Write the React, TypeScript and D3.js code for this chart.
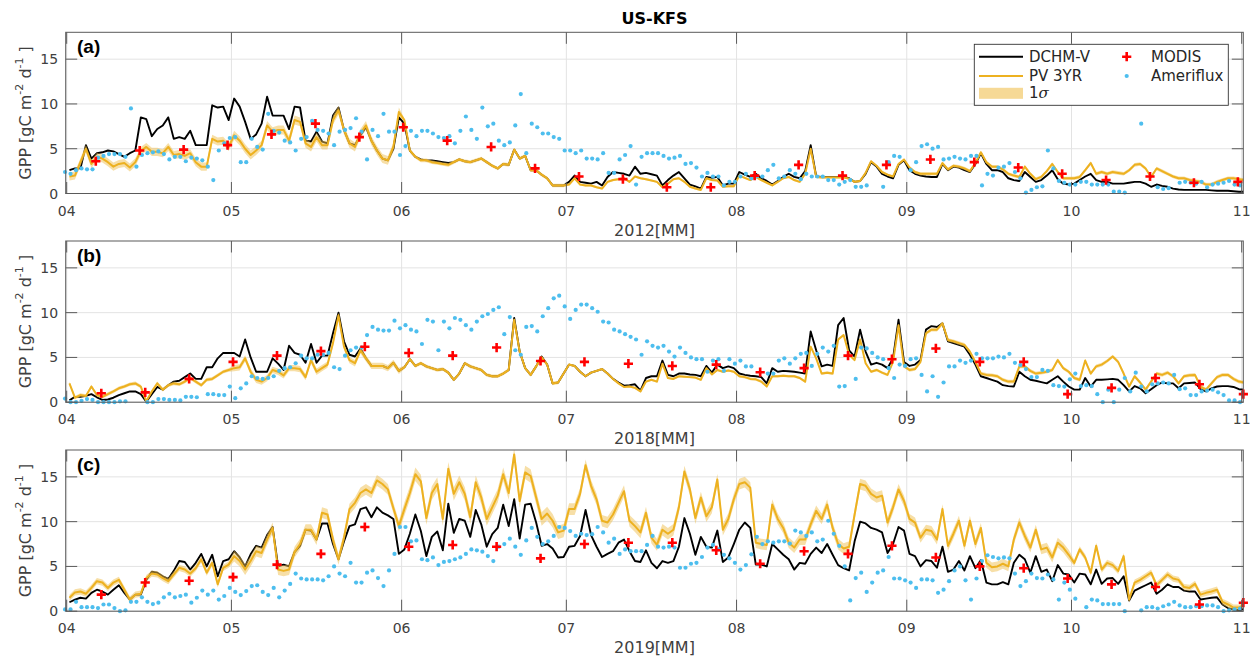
import React from "react";
import * as d3 from "d3";

// ---------------------------------------------------------------------------
// US-KFS daily GPP, 1 Apr .. 1 Nov (215 daily values per series)
// ---------------------------------------------------------------------------

const dchm2012 = [
  2.6, 2.8, 2.8, 5.4, 3.9, 4.5, 4.6, 4.8, 4.7, 4.4,
  4.1, 4.5, 4.8, 8.5, 8.3, 6.4, 7.2, 7.6, 8.5, 6.1,
  6.3, 6.1, 7.0, 5.4, 5.4, 5.4, 9.85, 9.6, 9.7, 8.2,
  10.6, 9.7, 8.0, 6.1, 6.6, 7.8, 10.8, 8.7, 8.7, 8.7,
  7.2, 9.7, 9.6, 5.9, 5.8, 6.9, 5.8, 5.6, 8.7, 9.6,
  7.1, 5.6, 5.4, 6.5, 7.4, 5.9, 4.8, 3.9, 3.7, 5.0,
  8.5, 7.8, 4.8, 4.1, 3.8, 3.7, 3.7, 3.6, 3.5, 3.4,
  3.5, 3.8, 3.6, 3.5, 3.7, 3.9, 3.5, 3.1, 2.8, 3.3,
  3.2, 4.9, 3.9, 4.2, 2.6, 2.6, 2.1, 1.7, 0.9, 0.9,
  0.9, 1.3, 2.0, 1.3, 1.2, 1.1, 1.3, 0.9, 1.85, 2.4,
  2.3, 2.2, 2.0, 3.0, 2.2, 2.3, 2.15, 2.0, 0.9, 1.5,
  2.0, 2.4, 1.7, 1.0, 0.8, 0.55, 1.85, 1.75, 1.85, 0.9,
  1.1, 1.1, 2.4, 2.1, 1.85, 2.2, 1.7, 1.4, 1.0, 1.4,
  1.85, 2.2, 1.85, 1.7, 2.5, 5.4, 1.9, 1.85, 1.85, 1.85,
  1.85, 1.85, 1.7, 1.3, 1.4, 2.2, 3.5, 3.0, 2.2, 1.9,
  1.7, 3.2, 3.7, 2.6, 2.2, 2.0, 1.9, 1.85, 1.85, 3.3,
  2.6, 3.0, 2.9, 2.6, 2.4, 3.3, 4.5, 3.3, 2.6, 2.6,
  2.4, 1.7, 1.5, 1.4, 2.4, 1.85, 1.3, 1.5, 2.0, 2.6,
  1.6, 1.1, 1.0, 1.1, 1.5, 1.9, 2.2, 1.5, 1.3, 1.3,
  1.1, 1.1, 1.1, 1.2, 1.3, 1.3, 1.1, 0.75, 1.0, 0.85,
  0.75, 0.55, 0.45, 0.4, 0.4, 0.4, 0.4, 0.4, 0.35, 0.3,
  0.3, 0.3, 0.25, 0.2, 0.2,
];

const pv2012 = [
  1.9, 2.0, 3.5, 5.0, 3.3, 4.1, 3.9, 3.5, 3.0, 3.3,
  3.4, 2.9, 3.5, 4.75, 5.2, 4.65, 4.65, 4.5, 5.2, 4.3,
  4.4, 4.2, 4.5, 3.5, 3.0, 3.0, 6.1, 5.8, 5.9, 5.2,
  6.5, 5.9, 5.0, 4.3, 4.8, 5.4, 7.6, 6.9, 7.1, 7.1,
  5.9, 8.2, 8.0, 5.6, 5.2, 6.3, 5.4, 5.4, 8.2, 9.3,
  7.1, 5.6, 5.2, 6.7, 7.6, 5.9, 4.8, 3.9, 3.7, 5.2,
  9.1, 8.2, 4.8, 4.1, 3.7, 3.7, 3.5, 3.4, 3.3, 3.2,
  3.5, 3.8, 3.6, 3.5, 3.7, 3.9, 3.5, 3.1, 2.8, 3.3,
  3.2, 4.9, 3.9, 4.2, 2.6, 2.6, 2.1, 1.7, 0.9, 0.9,
  0.9, 1.0, 1.7, 1.0, 0.9, 0.9, 0.7, 0.55, 1.3, 1.5,
  1.6, 1.7, 1.3, 1.9, 1.7, 1.6, 1.45, 1.3, 0.7, 1.1,
  1.6, 1.7, 1.3, 0.75, 0.55, 0.4, 1.7, 1.5, 1.45, 0.75,
  0.8, 0.8, 2.0, 1.75, 1.5, 1.85, 1.5, 1.2, 0.9, 1.3,
  1.7, 1.85, 1.5, 1.3, 2.2, 5.0, 1.85, 1.8, 1.8, 1.8,
  1.8, 1.8, 1.65, 1.3, 1.4, 2.3, 3.6, 3.1, 2.4, 2.1,
  1.9, 3.3, 3.8, 2.9, 2.4, 2.2, 2.2, 2.2, 2.2, 3.4,
  2.7, 3.1, 3.0, 2.8, 2.5, 3.4, 4.6, 3.5, 3.0, 3.0,
  2.7, 2.2, 2.0, 1.85, 3.0, 2.2, 1.6, 1.85, 2.5, 3.3,
  2.4, 1.7, 1.7, 1.7, 1.85, 2.6, 3.4, 2.2, 2.4, 2.2,
  2.4, 2.3, 2.2, 2.6, 3.2, 3.3, 2.8, 1.85, 2.8, 2.5,
  2.2, 1.9, 1.7, 1.7, 1.5, 1.4, 1.3, 1.0, 1.0, 1.3,
  1.5, 1.7, 1.7, 1.6, 1.5,
];

const flux2012 = [
  2.4, 2.2, 2.6, 2.8, 2.7, 2.7, 4.0, 4.2, 4.4, 4.4,
  4.4, 4.1, 9.5, 3.0, 4.3, 4.5, 4.6, 4.7, 4.4, 3.8,
  4.1, 4.1, 3.6, 4.0, 3.9, 3.7, 3.0, 1.5, 4.8, 5.6,
  6.2, 6.3, 3.5, 3.5, 6.1, 5.2, 4.9, 8.9, 7.0, 6.8,
  5.9, 5.7, 4.8, 6.1, 6.3, 8.1, 7.1, 7.0, 6.7, 5.4,
  6.9, 7.1, 7.3, 8.4, 6.9, 3.8, 7.1, 6.4, 8.9, 6.9,
  6.9, 4.3, 5.3, 7.0, 6.4, 7.0, 7.0, 6.7, 6.3, 6.2,
  6.4, 5.6, 7.0, 8.6, 7.1, 6.1, 9.6, 7.5, 7.8, 5.9,
  5.4, 5.7, 7.6, 11.1, 4.5, 7.8, 7.4, 6.7, 6.7, 6.3,
  6.1, 4.8, 4.8, 4.5, 4.8, 3.9, 3.9, 3.8, 4.5, 2.3,
  2.3, 3.8, 4.3, 5.3, 1.0, 4.1, 4.5, 4.5, 4.5, 4.2,
  3.9, 4.0, 4.2, 3.3, 3.4, 2.9, 1.9, 2.3, 1.9, 1.9,
  0.9, 1.3, 1.3, 1.9, 2.2, 1.7, 1.9, 1.9, 2.6, 3.2,
  1.7, 1.9, 2.6, 2.2, 1.6, 2.2, 1.9, 1.9, 1.9, 1.5,
  1.5, 1.0, 1.3, 1.5, 0.75, 0.75, 0.9, null, null, 0.75,
  3.5, 4.2, 4.1, null, 2.6, 3.5, 5.3, 5.5, 5.0, 5.2,
  3.8, 3.9, 4.1, 3.9, 3.8, 4.2, 4.2, 0.9, 2.2, 2.0,
  2.9, 3.0, 3.4, 2.4, 1.7, 0.1, 0.4, 0.7, 0.8, 4.8,
  2.8, 1.4, 1.2, 1.0, 1.0, 1.3, 1.3, 1.0, 1.0, 1.0,
  1.0, 0.2, 0.2, 0.1, null, null, 7.8, null, null, 0.7,
  0.5, 0.6, null, 1.2, 1.3, 1.2, 1.1, 1.3, 0.7, 1.0,
  1.1, 1.2, 1.4, 1.0, 0.9,
];

const dchm2018 = [
  0.2, 0.6, 0.6, 0.7, 0.9, 0.55, 0.25, 0.3, 0.5, 0.8,
  1.0, 1.2, 1.2, 0.9, 0.05, 0.9, 1.7, 1.4, 1.9, 2.3,
  2.4, 2.8, 3.2, 2.6, 2.6, 3.9, 3.9, 4.9, 5.5, 5.5,
  5.5, 5.1, 7.0, 5.0, 3.4, 3.4, 3.4, 4.9, 4.3, 3.6,
  6.3, 5.5, 5.3, 4.4, 6.5, 4.4, 5.2, 5.2, 7.7, 10.0,
  6.8, 5.3, 5.1, 6.0, 4.9, 4.05, 4.05, 4.05, 3.8, 4.4,
  3.5, 3.9, 4.8, 4.05, 4.35, 4.0, 3.8, 3.6, 3.7, 3.3,
  2.5, 3.2, 4.35, 4.0, 3.8, 3.6, 3.05, 2.9, 2.9, 3.2,
  3.6, 9.4, 5.65, 3.8, 3.05, 4.0, 5.1, 4.2, 2.1, 2.2,
  3.2, 4.2, 4.05, 3.4, 2.9, 3.3, 3.5, 3.7, 3.2, 2.6,
  2.2, 1.85, 1.9, 2.0, 1.3, 2.7, 2.9, 2.9, 4.65, 3.05,
  2.9, 3.2, 3.2, 3.1, 3.05, 2.9, 4.05, 3.3, 4.2, 3.8,
  4.0, 3.8, 3.2, 3.05, 2.95, 2.9, 2.8, 2.1, 3.8, 3.4,
  3.5, 3.45, 3.4, 3.3, 3.2, 7.9, 5.8, 4.0, 4.2, 4.05,
  8.6, 9.4, 5.8, 5.1, 8.1, 5.65, 4.2, 4.4, 4.2, 3.8,
  4.9, 9.2, 4.5, 4.05, 4.2, 4.7, 8.1, 8.5, 8.4, 8.8,
  6.8, 6.6, 6.4, 6.2, 5.3, 4.2, 2.9, 2.7, 2.5, 2.3,
  1.9, 1.8, 1.75, 3.4, 2.9, 2.5, 2.4, 2.25, 2.1, 2.5,
  2.9, 2.3, 1.75, 1.4, 1.4, 2.7, 1.75, 2.5, 2.5, 2.55,
  2.6, 2.5, 1.9, 1.2, 1.8, 1.55, 1.0, 1.45, 1.9, 2.2,
  2.1, 2.1, 1.55, 2.1, 2.15, 2.2, 1.45, 1.2, 1.55, 1.75,
  1.8, 1.8, 1.7, 1.45, 1.4,
];

const pv2018 = [
  2.1, 0.5, 0.8, 0.7, 1.75, 0.8, 0.6, 0.9, 1.2, 1.55,
  1.75, 2.0, 2.1, 1.75, 0.1, 1.2, 2.1, 1.4, 1.9, 2.1,
  2.0, 2.3, 2.7, 2.3, 1.9, 2.5, 2.6, 3.0, 3.4, 3.6,
  3.8, 3.9, 4.9, 3.4, 2.5, 2.3, 2.7, 3.6, 3.4, 3.0,
  3.8, 3.8, 3.7, 2.8, 4.7, 3.4, 3.8, 4.2, 6.6, 9.7,
  6.2, 4.7, 4.35, 5.8, 4.9, 4.05, 4.05, 4.05, 3.8, 4.4,
  3.5, 3.9, 4.8, 4.05, 4.35, 4.0, 3.8, 3.6, 3.7, 3.3,
  2.5, 3.2, 4.35, 4.0, 3.8, 3.6, 3.05, 2.9, 2.9, 3.2,
  3.6, 9.2, 5.65, 3.8, 3.05, 4.0, 5.0, 4.2, 2.1, 2.2,
  3.2, 4.2, 4.05, 3.4, 2.9, 3.3, 3.5, 3.7, 3.2, 2.6,
  2.1, 1.7, 1.75, 1.6, 1.2, 2.3, 2.5, 2.3, 4.3, 2.7,
  2.6, 2.9, 2.85, 2.8, 2.75, 2.5, 3.8, 3.1, 3.6, 3.4,
  3.55, 3.4, 2.9, 2.8, 2.6, 2.55, 2.3, 1.75, 2.9, 2.9,
  2.95, 2.9, 2.9, 2.7, 2.3, 6.2, 4.9, 3.2, 3.3, 3.2,
  7.0, 7.5, 5.3, 4.7, 7.0, 4.35, 3.4, 3.6, 3.3, 3.05,
  4.5, 8.6, 4.0, 3.6, 3.7, 4.5, 7.7, 8.1, 8.1, 8.8,
  6.95, 6.8, 6.6, 6.4, 5.65, 4.5, 3.2, 3.05, 3.0, 2.9,
  2.5, 2.3, 2.3, 4.0, 4.0, 3.5, 3.2, 3.3, 3.4, 3.6,
  4.7, 3.8, 3.4, 2.7, 2.5, 4.65, 3.2, 4.0, 4.2, 4.6,
  5.1, 4.5, 3.2, 1.75, 2.9, 2.2, 1.4, 2.3, 3.2, 3.05,
  3.3, 2.9, 2.1, 2.9, 3.0, 3.05, 1.75, 1.4, 2.1, 2.8,
  3.05, 3.05, 2.6, 2.3, 2.2,
];

const flux2018 = [
  0.4, 0.0, 0.0, 0.15, 0.35, 0.25, 0.0, 0.0, 0.0, 0.0,
  0.1, 0.1, null, null, null, 0.0, 0.0, 0.35, 0.35, 0.25,
  0.25, 0.2, 0.6, 0.6, 0.55, null, 0.9, 0.9, 0.8, 0.8,
  1.75, 0.45, 1.55, 2.1, 2.9, 2.7, 2.6, 2.7, 2.9, 3.5,
  3.8, 3.9, 4.35, 5.2, 4.9, 4.9, 5.3, 5.3, 5.5, 3.9,
  3.7, 5.2, 5.8, 6.1, 6.1, 7.5, 8.4, 8.1, 8.0, 8.0,
  9.1, 8.25, 8.6, 8.1, 7.9, 6.5, 9.2, 9.0, 5.8, 9.0,
  8.25, 9.4, 9.2, 8.6, 8.1, 9.0, 9.6, 9.85, 10.3, 10.6,
  7.6, 9.5, 5.8, 5.3, 8.4, 8.5, 7.9, 9.6, 10.5, 11.6,
  11.9, 10.7, 9.3, 10.3, 10.9, 10.9, 10.5, 10.1, 9.0, 8.9,
  8.1, 7.9, 7.6, 7.3, 7.0, 5.3, 6.8, 6.3, 6.1, 6.3,
  5.65, 5.1, 6.1, 5.5, 5.0, 4.8, 4.8, 3.4, 4.65, 4.8,
  3.5, 4.8, 4.3, 4.65, 4.0, 4.0, null, null, 3.2, 3.2,
  4.65, 4.9, 4.3, 4.9, 5.4, 5.5, 4.05, 5.4, 6.1, 5.65,
  6.3, 1.75, 1.8, null, 2.6, 6.1, 6.0, 5.5, 5.0, 4.8,
  3.8, 2.7, 4.2, 4.05, 4.8, 4.9, 3.05, 1.2, 2.9, 0.6,
  2.2, 4.0, 4.0, 4.65, 4.4, 4.65, 5.4, 4.9, 4.9, 4.9,
  5.1, 5.0, 5.4, 4.4, 4.15, 3.7, 2.8, 2.8, 3.6, 3.5,
  1.9, 1.8, 1.75, 2.55, 3.2, 1.8, 1.9, 1.8, 0.9, 0.0,
  1.4, 0.0, 1.4, 2.7, 1.2, 3.3, 1.75, 1.2, 2.0, 2.1,
  2.2, 2.1, 3.05, 1.45, 1.55, 0.8, 0.8, 1.2, 1.3, 1.4,
  1.1, 0.8, 0.2, 0.2, 0.0,
];

const dchm2019 = [
  1.0, 1.3, 1.5, 1.4, 2.05, 2.4, 2.2, 1.85, 2.4, 2.9,
  2.05, 1.3, 1.85, 1.85, 3.5, 4.4, 4.3, 3.9, 3.6, 4.5,
  5.6, 5.5, 4.65, 5.4, 6.4, 5.0, 6.3, 3.9, 5.6, 5.8,
  6.7, 6.0, 5.0, 6.35, 7.3, 7.1, 8.5, 9.4, 5.0, 5.2,
  5.0, 6.6, 7.3, 9.1, 9.0, 8.0, 9.8, 9.8, 7.5, 5.8,
  7.8, 9.5, 9.7, 11.4, 11.6, 10.5, 11.6, 11.0, 10.7, 10.3,
  6.4, 6.9, 8.65, 10.8, 8.95, 6.15, 8.3, 8.9, 6.8, 12.0,
  8.75, 10.3, 10.1, 8.3, 11.3, 9.7, 7.2, 8.6, 9.3, 11.9,
  9.5, 12.5, 8.1, 11.9, 12.0, 9.9, 7.3, 7.5, 7.0, 6.0,
  6.05, 7.2, 7.3, 8.4, 11.3, 8.5, 7.2, 6.05, 6.4, 6.7,
  7.65, 8.0, 6.7, 5.6, 5.5, 6.8, 5.4, 4.8, 5.6, 5.4,
  5.6, 7.2, 10.4, 8.65, 6.3, 8.3, 7.2, 7.1, 9.0, 5.5,
  6.0, 7.5, 9.1, 9.9, 9.3, 5.2, 5.2, 5.0, 7.5, 6.9,
  6.3, 5.8, 4.65, 5.4, 5.3, 6.4, 7.1, 6.5, 7.5, 6.3,
  5.15, 4.8, 4.55, 7.8, 10.0, 9.8, 9.3, 9.1, 8.8, 6.5,
  7.5, 9.4, 9.0, 6.4, 6.15, 5.0, 5.7, 5.6, 4.85, 7.2,
  4.4, 4.65, 5.6, 4.55, 6.15, 4.8, 5.7, 3.2, 3.0, 3.0,
  3.25, 3.0, 5.4, 6.3, 5.8, 4.3, 6.15, 4.4, 4.65, 3.35,
  5.15, 4.2, 4.1, 3.2, 4.2, 4.1, 3.0, 4.65, 3.05, 3.65,
  3.7, 3.05, 3.9, 1.2, 2.3, 2.6, 2.9, 3.2, 1.95, 2.4,
  3.0, 2.7, 2.7, 2.3, 2.2, 2.2, 1.3, 1.4, 1.5, 1.55,
  0.75, 0.35, 0.2, 0.1, 0.3,
];

const pv2019 = [
  1.5, 2.1, 2.2, 1.95, 2.6, 3.35, 3.2, 2.6, 3.2, 3.5,
  2.4, 1.3, 1.85, 1.95, 3.7, 4.2, 4.1, 3.7, 3.35, 4.1,
  4.85, 4.65, 4.2, 4.8, 5.8, 4.3, 5.4, 3.0, 4.85, 5.2,
  6.15, 5.6, 4.65, 5.6, 6.7, 6.5, 8.0, 9.3, 4.65, 4.5,
  4.65, 6.6, 7.5, 9.1, 9.1, 8.0, 11.0, 10.8, 8.0, 5.8,
  8.2, 11.4, 12.1, 13.2, 13.6, 13.2, 14.6, 14.2, 13.6, 11.5,
  9.5, 11.4, 13.2, 15.3, 14.5, 10.4, 13.2, 14.2, 10.3, 15.9,
  13.1, 14.4, 13.1, 10.5, 14.4, 12.7, 10.3, 11.6, 12.9, 15.3,
  13.2, 17.5, 12.3, 15.5, 15.1, 12.7, 10.3, 10.9, 10.1, 8.8,
  9.0, 11.4, 11.4, 13.1, 16.3, 14.0, 12.5, 10.1, 9.9, 10.8,
  12.1, 13.4, 10.1, 9.5, 8.8, 11.0, 8.2, 7.4, 9.1, 8.65,
  9.1, 11.6, 15.6, 13.6, 10.4, 12.7, 10.6, 11.6, 14.7, 9.1,
  10.3, 12.5, 14.2, 14.4, 13.8, 7.65, 7.5, 7.4, 11.9, 10.3,
  9.3, 7.65, 7.1, 8.0, 8.0, 9.7, 11.2, 10.3, 11.9, 9.3,
  7.5, 7.0, 7.2, 10.8, 14.2, 14.0, 13.1, 12.7, 12.9, 9.9,
  11.6, 13.6, 12.3, 10.3, 9.9, 8.2, 9.1, 8.95, 8.0, 11.4,
  7.3, 8.65, 10.1, 7.3, 10.1, 7.5, 9.3, 5.4, 4.9, 5.0,
  5.3, 5.0, 8.0, 9.9, 8.4, 7.1, 9.1, 6.9, 7.1, 6.0,
  7.65, 7.1, 6.3, 5.4, 6.9, 6.0, 4.3, 7.3, 4.65, 5.4,
  5.15, 4.5, 6.15, 1.3, 3.2, 3.5, 3.9, 4.3, 2.9, 3.5,
  4.1, 3.65, 3.5, 2.7, 2.6, 3.05, 1.85, 2.05, 2.2, 2.4,
  1.05, 0.75, 0.4, 0.4, 0.75,
];

const flux2019 = [
  0.2, 0.2, 1.05, 0.45, 0.45, 0.45, 0.35, 0.75, 0.75, 0.35,
  0.0, 0.1, 1.05, 1.05, 1.55, 1.05, 0.8, 0.95, 1.55, 1.95,
  1.55, 1.7, 1.85, 0.95, 1.5, 2.3, 1.85, 2.3, 1.3, 1.7,
  2.6, 2.15, 1.8, 2.25, 2.8, 2.9, 2.15, 1.8, 2.6, 1.55,
  2.3, 3.05, 4.2, 3.65, 3.55, 3.55, 3.55, 3.45, 3.9, 5.0,
  4.2, 3.9, 5.4, 3.2, 3.2, 4.3, 4.55, 3.7, 2.8, 4.55,
  6.4, 9.4, 9.4, 7.8, 7.9, 5.8, 5.7, 6.0, 5.15, 5.5,
  5.6, 5.8, 6.0, 6.4, 6.9, 6.8, 6.65, 6.15, 5.6, 7.2,
  7.5, 8.1, 7.2, 6.3, 7.9, 9.3, 8.3, 7.5, 7.8, 8.4,
  9.4, 9.3, 8.95, 8.4, 8.65, 8.5, 8.6, 9.4, 8.8, 7.65,
  8.1, 6.4, 6.9, 6.7, 6.7, 6.7, 7.4, 8.4, 7.2, 7.1,
  7.2, 7.1, 4.85, 4.85, 5.3, 5.4, 6.05, 7.1, 7.4, 6.9,
  6.3, 5.9, 5.4, 4.65, 5.15, 6.35, 8.3, 7.5, 7.8, 7.65,
  7.8, 7.8, 7.55, 9.0, 8.8, 8.4, 8.8, 7.8, 8.0, 10.1,
  8.65, 7.3, 5.0, 1.2, 3.7, 4.3, 2.15, 3.2, 4.3, 4.55,
  6.05, 3.65, 3.65, 3.45, 3.2, 2.6, 3.55, 3.55, 3.45, 2.05,
  2.4, 3.35, 4.55, 5.0, 3.45, 1.3, 3.65, 5.6, 6.25, 6.05,
  5.9, 6.0, 5.9, 4.2, 2.8, 3.35, 4.2, 3.7, 3.65, 4.1,
  3.55, 1.3, 3.2, 2.4, 1.4, null, 0.45, 1.3, 1.2, 0.8,
  0.8, 0.8, 0.8, 0.0, null, null, 0.1, 0.45, 0.45, 0.3,
  0.55, 0.75, 1.05, 0.65, 0.45, 0.45, 0.55, 0.55, 0.65, 0.65,
  0.45, 0.0, 0.1, 0.2, 0.3,
];

// PV 3YR one-sigma spread, by month (Apr .. Nov)
const sigma2012 = [0.45, 0.5, 0.2, 0.12, 0.12, 0.18, 0.2, 0.2];
const sigma2018 = [0.2, 0.35, 0.2, 0.12, 0.15, 0.2, 0.2, 0.2];
const sigma2019 = [0.35, 0.6, 0.75, 0.65, 0.6, 0.55, 0.35, 0.3];

// MODIS 8-day composites
const modis2012 = [3.6, 4.8, 4.9, 5.4, 6.6, 7.8, 6.3, 7.4, 5.9, 5.2, 2.8, 1.9, 1.6, 0.7, 0.7, 2.0, 3.2, 2.0, 3.2, 3.8, 3.5, 2.9, 2.2, 1.5, 1.9, 1.2, 1.3];
const modis2018 = [1.0, 1.1, 2.6, 4.5, 5.2, 5.7, 6.2, 5.5, 5.2, 6.1, 4.6, 4.5, 4.3, 4.05, 4.2, 3.35, 3.8, 5.2, 4.8, 6.0, 4.5, 4.5, 0.9, 1.6, 2.7, 2.0, 0.9];
const modis2019 = [1.85, 3.2, 3.4, 3.8, 5.2, 6.4, 9.4, 7.2, 7.4, 7.2, 5.9, 7.5, 7.65, 7.65, 6.8, 5.3, 6.7, 6.4, 7.3, 6.0, 5.0, 4.8, 3.65, 3.0, 2.7, 0.75, 0.95];
// composite centre, days after 1 Apr of the first composite
const modisFirstDay = [5.3, 6.3, 6.3];

const years = [2012, 2018, 2019];
const panelTags = ["(a)", "(b)", "(c)"];
const monthTickLabels = ["04", "05", "06", "07", "08", "09", "10", "11"];
const yTicks = [0, 5, 10, 15];
const legendLabels = ["DCHM-V", "PV 3YR", "1", "MODIS", "Ameriflux"];

// ---------------------------------------------------------------------------
const W = 1252;
const H = 661;
const X0 = 66.7; // 1 Apr
const X1 = 1241.7; // 1 Nov
const FRAME_L = 65.7;
const FRAME_R = 1243.3;
const PANEL_TOP = [32.3, 241, 450];
const PANEL_H = 161.2;
const Y_MAX = 18;
const TICK = 11.5;
const DAY = 86400000;

const C_DCHM = "#000000";
const C_PV = "#EDB120";
const C_BAND = "#F0C050";
const C_MODIS = "#FF0000";
const C_FLUX = "#4DBEEE";
const C_AXIS = "#5a5a5a";
const C_GRID = "#e3e3e3";
const C_TEXT = "#404040";
const FONT = "'DejaVu Sans', sans-serif";

const series = [
  { dchm: dchm2012, pv: pv2012, sigma: sigma2012, modis: modis2012, flux: flux2012 },
  { dchm: dchm2018, pv: pv2018, sigma: sigma2018, modis: modis2018, flux: flux2018 },
  { dchm: dchm2019, pv: pv2019, sigma: sigma2019, modis: modis2019, flux: flux2019 },
];

function plusPath(x: number, y: number, r: number) {
  return `M${x - r},${y}H${x + r}M${x},${y - r}V${y + r}`;
}

function Panel({ k }: { k: number }) {
  const year = years[k];
  const s = series[k];
  const top = PANEL_TOP[k];
  const bottom = top + PANEL_H;
  const start = Date.UTC(year, 3, 1);
  const x = d3.scaleUtc().domain([new Date(start), new Date(Date.UTC(year, 10, 1))]).range([X0, X1]);
  const y = d3.scaleLinear().domain([0, Y_MAX]).range([bottom, top]);
  const at = (d: number) => new Date(start + d * DAY);

  const monthDates = monthTickLabels.map((_, m) => new Date(Date.UTC(year, 3 + m, 1)));

  type P = { t: Date; v: number; sd: number };
  const pvPts: P[] = s.pv.map((v, i) => {
    const t = at(i + 0.5);
    const m = Math.min(7, Math.max(0, t.getUTCMonth() - 3));
    return { t, v, sd: s.sigma[m] };
  });
  const dchmPts = s.dchm.map((v, i) => ({ t: at(i + 0.5), v }));

  const line = d3
    .line<{ t: Date; v: number }>()
    .x((d) => x(d.t))
    .y((d) => y(d.v));
  const band = d3
    .area<P>()
    .x((d) => x(d.t))
    .y0((d) => y(Math.max(0, d.v - d.sd)))
    .y1((d) => y(d.v + d.sd));

  const fluxPts = s.flux
    .map((v, i) => ({ t: at(i - 0.3), v }))
    .filter((d) => d.v !== null && d.v !== undefined) as { t: Date; v: number }[];
  const modisPts = s.modis.map((v, k2) => ({ t: at(modisFirstDay[k] + 8 * k2), v }));

  const midY = (top + bottom) / 2;
  const clipId = `clip${k}`;

  return (
    <g>
      <defs>
        <clipPath id={clipId}>
          <rect x={FRAME_L} y={top} width={FRAME_R - FRAME_L} height={PANEL_H} />
        </clipPath>
      </defs>
      <rect x={FRAME_L} y={top} width={FRAME_R - FRAME_L} height={PANEL_H} fill="#fff" />
      {/* grid */}
      {monthDates.map((d, i) => (
        <line key={"gx" + i} x1={x(d)} x2={x(d)} y1={top} y2={bottom} stroke={C_GRID} strokeWidth={1} />
      ))}
      {yTicks.map((v) => (
        <line key={"gy" + v} x1={FRAME_L} x2={FRAME_R} y1={y(v)} y2={y(v)} stroke={C_GRID} strokeWidth={1} />
      ))}

      <g clipPath={`url(#${clipId})`}>
        <path d={line(dchmPts) || ""} fill="none" stroke={C_DCHM} strokeWidth={1.9} strokeLinejoin="round" />
        <path d={band(pvPts) || ""} fill={C_BAND} fillOpacity={0.5} stroke="none" />
        <path d={line(pvPts) || ""} fill="none" stroke={C_PV} strokeWidth={2} strokeLinejoin="round" />
      </g>
      {fluxPts.map((d, i) => (
        <circle key={"f" + i} cx={x(d.t)} cy={y(d.v)} r={2.1} fill={C_FLUX} />
      ))}
      {modisPts.map((d, i) => (
        <path key={"m" + i} d={plusPath(x(d.t), y(d.v), 4.6)} stroke={C_MODIS} strokeWidth={2.6} fill="none" />
      ))}

      {/* frame and ticks */}
      <rect x={FRAME_L} y={top} width={FRAME_R - FRAME_L} height={PANEL_H} fill="none" stroke={C_AXIS} strokeWidth={1} />
      {monthDates.map((d, i) => (
        <g key={"tx" + i}>
          <line x1={x(d)} x2={x(d)} y1={bottom} y2={bottom - TICK} stroke={C_AXIS} strokeWidth={1} />
          <line x1={x(d)} x2={x(d)} y1={top} y2={top + TICK} stroke={C_AXIS} strokeWidth={1} />
          <text x={x(d)} y={bottom + 17} textAnchor="middle" dominantBaseline="central" fontSize={14} fill={C_TEXT} fontFamily={FONT}>
            {monthTickLabels[i]}
          </text>
        </g>
      ))}
      {yTicks.map((v) => (
        <g key={"ty" + v}>
          <line x1={FRAME_L} x2={FRAME_L + TICK} y1={y(v)} y2={y(v)} stroke={C_AXIS} strokeWidth={1} />
          <line x1={FRAME_R} x2={FRAME_R - TICK} y1={y(v)} y2={y(v)} stroke={C_AXIS} strokeWidth={1} />
          <text x={FRAME_L - 7.5} y={y(v)} textAnchor="end" dominantBaseline="central" fontSize={14} fill={C_TEXT} fontFamily={FONT}>
            {v}
          </text>
        </g>
      ))}

      <text x={(FRAME_L + FRAME_R) / 2} y={bottom + 36.5} textAnchor="middle" dominantBaseline="central" fontSize={16} fill={C_TEXT} fontFamily={FONT}>
        {`${year}[MM]`}
      </text>

      <text
        transform={`translate(25,${midY}) rotate(-90)`}
        textAnchor="middle"
        dominantBaseline="central"
        fontSize={16}
        fill={C_TEXT}
        fontFamily={FONT}
      >
        <tspan>GPP [gC m</tspan>
        <tspan fontSize={11} dy={-6}>-2</tspan>
        <tspan dy={6}> d</tspan>
        <tspan fontSize={11} dy={-6}>-1</tspan>
        <tspan dy={6}> ]</tspan>
      </text>

      <text x={77} y={top + 21} fontSize={19} fontWeight="bold" fill="#000" fontFamily="'Liberation Sans', Arial, sans-serif">
        {panelTags[k]}
      </text>
    </g>
  );
}

function Legend() {
  const bx = 974.3;
  const by = 44.3;
  const bw = 254;
  const bh = 61;
  const rows = [56.7, 76, 93.3];
  const lx0 = 979;
  const lx1 = 1023;
  const tx = 1029;
  const mx = 1126.7;
  const tx2 = 1151;
  const fs = 15;
  return (
    <g fontFamily={FONT} fontSize={fs} fill="#262626">
      <rect x={bx} y={by} width={bw} height={bh} fill="#fff" stroke="#333" strokeWidth={0.9} />
      <line x1={lx0} x2={lx1} y1={rows[0]} y2={rows[0]} stroke={C_DCHM} strokeWidth={2} />
      <text x={tx} y={rows[0]} dominantBaseline="central">{legendLabels[0]}</text>
      <line x1={lx0} x2={lx1} y1={rows[1]} y2={rows[1]} stroke={C_PV} strokeWidth={2} />
      <text x={tx} y={rows[1]} dominantBaseline="central">{legendLabels[1]}</text>
      <rect x={lx0} y={rows[2] - 5.5} width={lx1 - lx0} height={11} fill={C_BAND} fillOpacity={0.6} />
      <text x={tx} y={rows[2]} dominantBaseline="central">
        {legendLabels[2]}
        <tspan fontStyle="italic" fontFamily="'DejaVu Serif', serif">σ</tspan>
      </text>
      <path d={plusPath(mx, rows[0], 4.6)} stroke={C_MODIS} strokeWidth={2.6} fill="none" />
      <text x={tx2} y={rows[0]} dominantBaseline="central">{legendLabels[3]}</text>
      <circle cx={mx} cy={rows[1]} r={2.1} fill={C_FLUX} />
      <text x={tx2} y={rows[1]} dominantBaseline="central">{legendLabels[4]}</text>
    </g>
  );
}

export default function App() {
  return (
    <svg
      width={W}
      height={H}
      viewBox={`0 0 ${W} ${H}`}
      style={{ position: "absolute", left: 0, top: 0, background: "#fff" }}
    >
      <rect x={0} y={0} width={W} height={H} fill="#fff" />
      <text x={654.5} y={18.3} textAnchor="middle" dominantBaseline="central" fontSize={16} fontWeight="bold" fill="#000" fontFamily={FONT}>
        US-KFS
      </text>
      {years.map((_, k) => (
        <Panel key={k} k={k} />
      ))}
      <Legend />
    </svg>
  );
}
